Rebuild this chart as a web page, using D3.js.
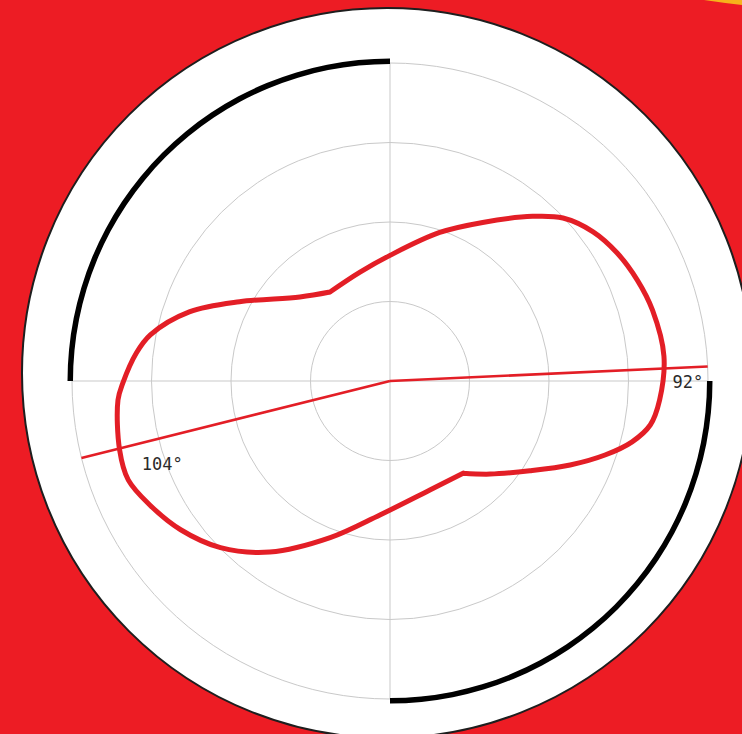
<!DOCTYPE html>
<html>
<head>
<meta charset="utf-8">
<script src="https://cdn.jsdelivr.net/npm/d3@7"></script>
<style>
  html, body { margin: 0; padding: 0; background: #ed1c24; }
  svg { display: block; }
</style>
</head>
<body>
<svg id="chart" width="742" height="734"></svg>
<script>
// ---- data ----
// pattern: compass angle (deg, clockwise from north) and radius value (rings every 10)
const patternAngles = [0, 18.5, 30.3, 40.9, 46.7, 53.7, 60.6, 67.8, 74.9, 84.8, 94.0, 99.6, 104.1, 109.0, 115.0, 122.7, 132.9, 141.6, 159.9, 184.3, 200.9, 215.1, 225.5, 234.6, 242.7, 249.3, 255.7, 266, 269.6, 276.3, 280.9, 289, 297.8, 313, 326, 344.6];
const patternValues = [15.8, 19.7, 23.1, 27.4, 29.9, 31.7, 32.8, 33.6, 34.2, 34.6, 34.0, 33.2, 31.4, 28.6, 25.0, 20.9, 17.2, 14.8, 14.6, 16.9, 21.1, 26.3, 29.9, 32.3, 34.0, 35.2, 35.1, 34.3, 33.6, 32.1, 30.7, 26.7, 21.4, 15.5, 13.5, 14.2];
const kinkAngles = [141.6, 326];
const ringValues = [10, 20, 30, 40];
const axisAngles = [0, 90, 180, 270];
const markerAngles = [87.4, 256];
const markerLabels = ["92\u00b0", "104\u00b0"];
const markerLabelValues = [40, 32];
const arcSpans = [[-90, 0], [90, 180]];
const maxValue = 40;

// ---- layout ----
const W = 742, H = 734;
const cx = 390, cy = 381;
const R = 318;
const svg = d3.select("#chart");

svg.append("rect").attr("width", W).attr("height", H).attr("fill", "#ed1c24");
// yellow decoration top-right
svg.append("path").attr("d", "M704,0 Q724,3 742,5 L742,0 Z").attr("fill", "#f6b21b");

// white disc
svg.append("circle").attr("cx", 387).attr("cy", 373).attr("r", 365)
  .attr("fill", "#ffffff").attr("stroke", "#1e1e1e").attr("stroke-width", 2);

const g = svg.append("g").attr("transform", `translate(${cx},${cy})`);
const r = d3.scaleLinear().domain([0, maxValue]).range([0, R]);
const rad = d => d * Math.PI / 180;

// grid rings
g.selectAll("circle.ring").data(ringValues).join("circle")
  .attr("class", "ring").attr("r", d => r(d))
  .attr("fill", "none").attr("stroke", "#c9c9c9").attr("stroke-width", 1);

// axis spokes
const spoke = d3.lineRadial().angle(d => rad(d[0])).radius(d => r(d[1]));
g.selectAll("path.spoke").data(axisAngles).join("path")
  .attr("class", "spoke")
  .attr("d", a => spoke([[a, 0], [a, maxValue]]))
  .attr("stroke", "#c9c9c9").attr("stroke-width", 1).attr("fill", "none");

// black arcs
const arc = d3.arc().innerRadius(r(maxValue) - 1).outerRadius(r(maxValue) + 4.5);
g.selectAll("path.band").data(arcSpans).join("path")
  .attr("class", "band")
  .attr("d", d => arc({startAngle: rad(d[0]), endAngle: rad(d[1])}))
  .attr("fill", "#000");

// pattern curve: smooth segments between the two kinks
const pts = patternAngles.map((a, i) => ({a, v: patternValues[i]}));
const k1 = patternAngles.indexOf(kinkAngles[0]);
const k2 = patternAngles.indexOf(kinkAngles[1]);
const segA = pts.slice(k1, k2 + 1);                        // kink1 -> kink2
const segB = pts.slice(k2).concat(pts.slice(0, k1 + 1));   // kink2 -> wrap -> kink1
const curve = d3.lineRadial().angle(d => rad(d.a)).radius(d => r(d.v))
  .curve(d3.curveCatmullRom.alpha(0.5));
g.append("path").attr("d", curve(segA) + curve(segB))
  .attr("fill", "none").attr("stroke", "#e31e26").attr("stroke-width", 5)
  .attr("stroke-linejoin", "round").attr("stroke-linecap", "round");

// marker lines
g.selectAll("path.marker").data(markerAngles).join("path")
  .attr("class", "marker")
  .attr("d", a => spoke([[a, 0], [a, maxValue]]))
  .attr("stroke", "#e31e26").attr("stroke-width", 2.6).attr("fill", "none");

// marker labels
const anchors = ["end", "start"];
const offs = [[-4.5, 21.5], [-1.5, 27.5]];
g.selectAll("text.mlab").data(markerLabels).join("text")
  .attr("class", "mlab")
  .attr("x", (d, i) => r(markerLabelValues[i]) * Math.sin(rad(markerAngles[i])) + offs[i][0])
  .attr("y", (d, i) => -r(markerLabelValues[i]) * Math.cos(rad(markerAngles[i])) + offs[i][1])
  .attr("text-anchor", (d, i) => anchors[i])
  .attr("font-family", "'DejaVu Sans Mono', monospace")
  .attr("font-size", 17)
  .attr("fill", "#2a2a2a")
  .text(d => d);
</script>
</body>
</html>
